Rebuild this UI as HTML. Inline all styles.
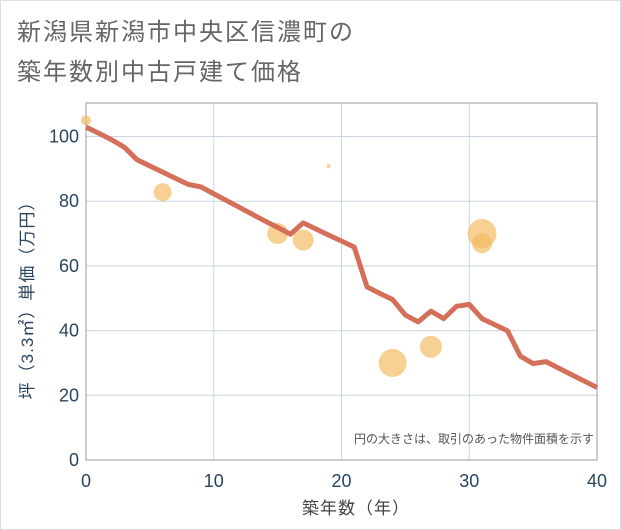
<!DOCTYPE html>
<html><head><meta charset="utf-8">
<style>
html,body{margin:0;padding:0;background:#fff;}
svg{display:block;font-family:"Liberation Sans","Noto Sans CJK JP",sans-serif;}
</style></head>
<body>
<svg id="chart" width="621" height="530" xmlns="http://www.w3.org/2000/svg">
<rect x="0.5" y="0.5" width="620" height="529" fill="#fff" stroke="#ddd"/>
<text x="17" y="40" font-size="24" letter-spacing="2" fill="#666">新潟県新潟市中央区信濃町の</text>
<text x="17" y="80" font-size="24" letter-spacing="2" fill="#666">築年数別中古戸建て価格</text>
<g id="grid"></g>
<g id="axes"></g>
<g id="bubbles"></g>
<g id="line"></g>
<text x="594" y="443" font-size="12" fill="#555" text-anchor="end">円の大きさは、取引のあった物件面積を示す</text>
<text x="356" y="514" font-size="17" letter-spacing="1" fill="#444" text-anchor="middle">築年数（年）</text>
<text transform="translate(33,296) rotate(-90)" font-size="17" letter-spacing="1" fill="#2a4560" text-anchor="middle">坪（3.3㎡）単価（万円）</text>
</svg>
<script>
const xTicks=[0,10,20,30,40];
const yTicks=[0,20,40,60,80,100];
const lineX=[0,1,2,3,4,5,6,7,8,9,10,11,12,13,14,15,16,17,18,19,20,21,22,23,24,25,26,27,28,29,30,31,32,33,34,35,36,37,38,39,40];
const lineY=[102.9,101,99,96.7,92.8,90.9,89,87.1,85.2,84.4,82.3,80.2,78.1,76,73.9,71.9,69.8,73.3,71.4,69.5,67.7,65.8,53.5,51.5,49.6,44.8,42.7,46,43.7,47.5,48.1,43.7,41.8,39.9,32.1,29.8,30.4,28.4,26.4,24.4,22.4];
const bubX=[0,6,15,17,19,24,27,31,31];
const bubY=[105,82.8,70,68,90.8,30,35,70,67];
const bubR=[5,9,10.5,10.5,2,14,11,14.5,10];
const L=86,R=597,T=103,B=460;
const sx=v=>L+(v-0)/(40-0)*(R-L);
const sy=v=>B-v*3.235;
const NS='http://www.w3.org/2000/svg';
function mk(tag,attrs,parent){const e=document.createElementNS(NS,tag);for(const k in attrs)e.setAttribute(k,attrs[k]);parent.appendChild(e);return e;}
const grid=document.getElementById('grid'),axes=document.getElementById('axes');
xTicks.forEach(t=>{
 const l=mk('line',{x1:sx(t),x2:sx(t),y1:T,y2:B,stroke:'#c9d5e3','stroke-width':1},grid);
 
 
 const tx=mk('text',{x:sx(t),y:B+27,'font-size':18,fill:'#2a4560','text-anchor':'middle'},axes);
 tx.textContent=t;
 
 
});
yTicks.forEach(t=>{
 const l=mk('line',{x1:L,x2:R,y1:sy(t),y2:sy(t),stroke:'#c9d5e3','stroke-width':1},grid);
 
 
 const tx=mk('text',{x:L-7,y:sy(t)+6,'font-size':18,fill:'#2a4560','text-anchor':'end'},axes);
 tx.textContent=t;
 
 
});
const fr=mk('rect',{x:L,y:T,width:R-L,height:B-T,fill:'none',stroke:'#999','stroke-width':1},axes);


const bg=document.getElementById('bubbles');
bubX.forEach((x,i)=>{
 const c=mk('circle',{cx:sx(x),cy:sy(bubY[i]),r:bubR[i],fill:'#f2b85a','fill-opacity':0.65},bg);
 
 
});
const pts=lineX.map((x,i)=>sx(x)+','+sy(lineY[i])).join(' ');
const pl=mk('polyline',{points:pts,fill:'none',stroke:'#d4705a','stroke-width':5,'stroke-linejoin':'round'},document.getElementById('line'));


</script>
</body></html>
